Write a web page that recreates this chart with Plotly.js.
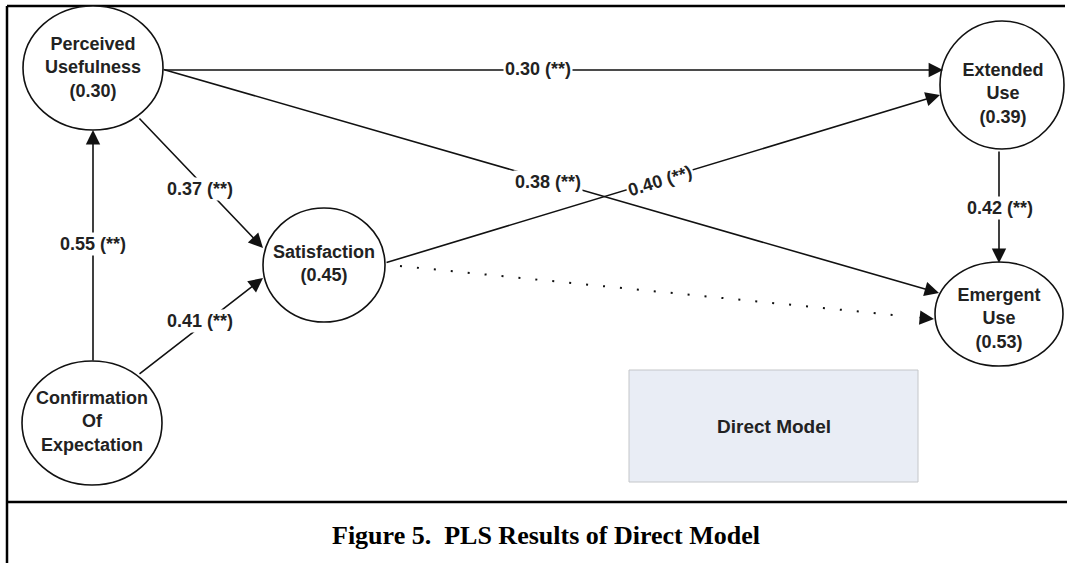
<!DOCTYPE html>
<html>
<head>
<meta charset="utf-8">
<script src="https://cdn.plot.ly/plotly-3.0.1.min.js"></script>
<style>html,body{margin:0;padding:0;background:#fff;}#chart{width:1067px;height:563px;}</style>
</head>
<body>
<div id="chart"></div>
<script>
// ---------- data ----------
const nodeIds    = ["PU", "CONF", "SAT", "EU", "EM"];
const nodeNames  = ["Perceived<br>Usefulness", "Confirmation<br>Of<br>Expectation", "Satisfaction", "Extended<br>Use", "Emergent<br>Use"];
const nodeR2     = [0.30, null, 0.45, 0.39, 0.53];

const edgeFrom   = ["PU", "PU", "PU", "CONF", "CONF", "SAT", "SAT", "EU"];
const edgeTo     = ["EU", "EM", "SAT", "SAT", "PU", "EU", "EM", "EM"];
const edgeCoef   = [0.30, 0.38, 0.37, 0.41, 0.55, 0.40, null, 0.42];
const edgeSig    = ["**", "**", "**", "**", "**", "**", "", "**"];

const boxText    = "Direct Model";
const captionText = "Figure 5.\u00a0 PLS Results of Direct Model";

// ---------- layout (positions / styles) ----------
const nodeCenter = {PU:[93,68], CONF:[92,423], SAT:[324,265], EU:[1002,85], EM:[999,314]};
const nodeRadius = {PU:[70,62], CONF:[70,62], SAT:[61,57], EU:[62,64], EM:[64,52]};
const nodeTextPos = {PU:[93,69], CONF:[92,423], SAT:[324,265], EU:[1003,95], EM:[999,320]};
// start point, end (tip) point, label point, label angle, dotted
const edgeGeom = [
  {s:[163,70],  e:[943,70],  l:[538,69],  a:0,   dot:false},
  {s:[162,69],  e:[939,293], l:[548,182], a:0,   dot:false},
  {s:[138,117], e:[263,248], l:[200,189], a:0,   dot:false},
  {s:[138,375], e:[263,278], l:[200,321], a:0,   dot:false},
  {s:[93,362],  e:[93,130],  l:[93,244],  a:0,   dot:false},
  {s:[385,263], e:[940,95],  l:[660,181], a:-17, dot:false},
  {s:[400,266], e:[934,319], l:null,      a:0,   dot:true},
  {s:[999,150], e:[999,263], l:[1000,208],a:0,   dot:false}
];

const lineCol = "#111111";
const textCol = "#222222";
const sansBold = "Liberation Sans, Arial, sans-serif";
const nodeFont = 18, labelFont = 18;

const shapes = [];
const annotations = [];

// frame
shapes.push({type:"line", layer:"below", xref:"x", yref:"y", x0:7, y0:6, x1:1065, y1:6, line:{color:"#000", width:2.5}});
shapes.push({type:"line", layer:"below", xref:"x", yref:"y", x0:7, y0:6, x1:7, y1:563, line:{color:"#000", width:2.5}});
shapes.push({type:"line", layer:"below", xref:"x", yref:"y", x0:7, y0:502, x1:1067, y1:502, line:{color:"#000", width:2.5}});

// Direct Model box
shapes.push({type:"rect", layer:"below", xref:"x", yref:"y", x0:629, y0:370, x1:918, y1:482,
  fillcolor:"#e9edf5", line:{color:"#c4c6c9", width:1}});
annotations.push({x:774, y:426, xref:"x", yref:"y", text:"<b>"+boxText+"</b>", showarrow:false,
  font:{family:sansBold, size:19, color:textCol}});

// edges
edgeFrom.forEach((f, i) => {
  const g = edgeGeom[i];
  if (g.dot) {
    shapes.push({type:"line", layer:"below", xref:"x", yref:"y", x0:g.s[0], y0:g.s[1],
      x1:g.s[0] + (g.e[0]-g.s[0])*0.94, y1:g.s[1] + (g.e[1]-g.s[1])*0.94,
      line:{color:lineCol, width:2, dash:"2px,15px"}});
    const bx = g.e[0] - (g.e[0]-g.s[0])*0.03, by = g.e[1] - (g.e[1]-g.s[1])*0.03;
    annotations.push({x:g.e[0], y:g.e[1], ax:bx, ay:by, axref:"x", ayref:"y", xref:"x", yref:"y",
      text:"", showarrow:true, arrowhead:2, arrowsize:1.8, arrowwidth:1.6, arrowcolor:lineCol, standoff:0});
  } else {
    annotations.push({x:g.e[0], y:g.e[1], ax:g.s[0], ay:g.s[1], axref:"x", ayref:"y", xref:"x", yref:"y",
      text:"", showarrow:true, arrowhead:2, arrowsize:1.8, arrowwidth:1.6, arrowcolor:lineCol, standoff:0});
  }
});
// labels on top
edgeFrom.forEach((f, i) => {
  const g = edgeGeom[i];
  if (!g.l || edgeCoef[i] === null) return;
  annotations.push({x:g.l[0], y:g.l[1], xref:"x", yref:"y", showarrow:false,
    text:"<b>"+edgeCoef[i].toFixed(2)+" ("+edgeSig[i]+")</b>", textangle:g.a,
    bgcolor:"#ffffff", borderpad:1, font:{family:sansBold, size:labelFont, color:textCol}});
});

// nodes
nodeIds.forEach((id) => {
  const c = nodeCenter[id], r = nodeRadius[id];
  shapes.push({type:"circle", layer:"below", xref:"x", yref:"y", x0:c[0]-r[0], x1:c[0]+r[0], y0:c[1]-r[1], y1:c[1]+r[1],
    fillcolor:"#ffffff", line:{color:lineCol, width:1.6}});
});

// caption
annotations.push({x:546, y:535, xref:"x", yref:"y", text:"<b>"+captionText+"</b>", showarrow:false,
  font:{family:"Liberation Serif, Times New Roman, serif", size:26, color:"#000"}});

const nodeTrace = {
  type:"scatter", mode:"text",
  x: nodeIds.map(id => nodeTextPos[id][0]),
  y: nodeIds.map(id => nodeTextPos[id][1]),
  text: nodeIds.map((id, i) => "<b>" + nodeNames[i] + (nodeR2[i] !== null ? "<br>(" + nodeR2[i].toFixed(2) + ")" : "") + "</b>"),
  textposition:"middle center",
  textfont:{family:sansBold, size:nodeFont, color:textCol},
  hoverinfo:"skip", showlegend:false, cliponaxis:false
};

const layout = {
  width:1067, height:563,
  margin:{l:0, r:0, t:0, b:0, pad:0},
  paper_bgcolor:"#ffffff", plot_bgcolor:"rgba(0,0,0,0)",
  xaxis:{range:[0,1067], visible:false, fixedrange:true},
  yaxis:{range:[563,0], visible:false, fixedrange:true},
  shapes: shapes,
  annotations: annotations,
  showlegend:false
};

Plotly.newPlot("chart", [nodeTrace], layout, {displayModeBar:false, staticPlot:true});
</script>
</body>
</html>
